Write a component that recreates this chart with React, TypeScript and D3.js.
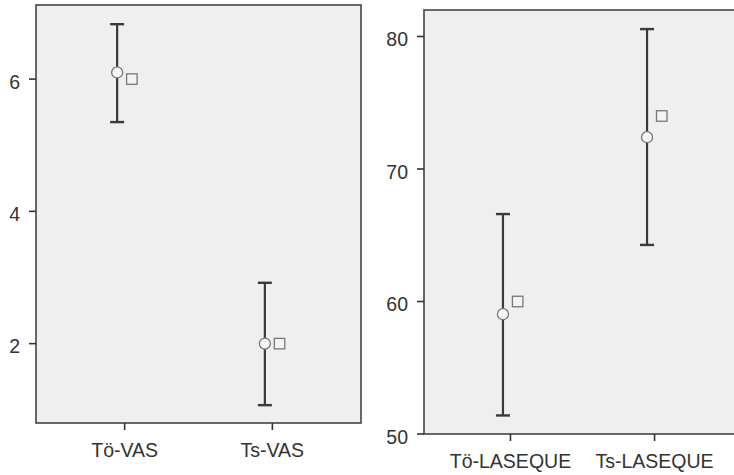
import React from "react";
import * as d3 from "d3";

const vasCategories = ["Tö-VAS", "Ts-VAS"];
const vasMean = [6.1, 2.0];
const vasLower = [5.35, 1.07];
const vasUpper = [6.83, 2.92];
const vasSquare = [6.0, 2.0];
const vasTicks = [2, 4, 6];

const lasCategories = ["Tö-LASEQUE", "Ts-LASEQUE"];
const lasMean = [59.04, 72.4];
const lasLower = [51.4, 64.27];
const lasUpper = [66.6, 80.56];
const lasSquare = [60.0, 74.0];
const lasTicks = [50, 60, 70, 80];

const FONT = "'Liberation Sans', Arial, sans-serif";
const FS = 19.5;

type PanelProps = {
  categories: string[];
  mean: number[];
  lower: number[];
  upper: number[];
  square: number[];
  ticks: number[];
  domain: [number, number];
  x0: number;
  x1: number;
  y0: number;
  y1: number;
};

function Panel(p: PanelProps) {
  const x = d3.scalePoint<string>().domain(p.categories).range([p.x0, p.x1]).padding(0.6);
  const y = d3.scaleLinear().domain(p.domain).range([p.y1, p.y0]);
  const barOff = -7.5;
  const sqOff = 7.2;
  const cap = 7;
  const sq = 10.5;
  return (
    <g>
      <rect x={p.x0} y={p.y0} width={p.x1 - p.x0} height={p.y1 - p.y0} fill="#efefef" stroke="#444" strokeWidth={1.6} />
      {p.ticks.map((t) => (
        <g key={t}>
          <line x1={p.x0 - 7} x2={p.x0} y1={y(t)} y2={y(t)} stroke="#333" strokeWidth={1.6} />
          <text x={p.x0 - 16} y={y(t) + 9.5} textAnchor="end" fontFamily={FONT} fontSize={FS} fill="#333">
            {t}
          </text>
        </g>
      ))}
      {p.categories.map((c) => (
        <g key={c}>
          <line x1={x(c)!} x2={x(c)!} y1={p.y1} y2={p.y1 + 7} stroke="#333" strokeWidth={1.6} />
          <text x={x(c)!} y={p.y1 + 34} textAnchor="middle" fontFamily={FONT} fontSize={FS} fill="#333">
            {c}
          </text>
        </g>
      ))}
      {p.categories.map((c, i) => {
        const cx = x(c)! + barOff;
        const sx = x(c)! + sqOff;
        return (
          <g key={c + "m"}>
            <line x1={cx} x2={cx} y1={y(p.upper[i])} y2={y(p.lower[i])} stroke="#3a3a3a" strokeWidth={2.2} />
            <line x1={cx - cap} x2={cx + cap} y1={y(p.upper[i])} y2={y(p.upper[i])} stroke="#3a3a3a" strokeWidth={2.4} />
            <line x1={cx - cap} x2={cx + cap} y1={y(p.lower[i])} y2={y(p.lower[i])} stroke="#3a3a3a" strokeWidth={2.4} />
            <circle cx={cx} cy={y(p.mean[i])} r={5.5} fill="#f7f7f7" stroke="#777" strokeWidth={1.3} />
            <rect x={sx - sq / 2} y={y(p.square[i]) - sq / 2} width={sq} height={sq} fill="#f3f3f3" stroke="#777" strokeWidth={1.3} />
          </g>
        );
      })}
    </g>
  );
}

export default function App() {
  return (
    <svg width={734} height={475} style={{ position: "absolute", left: 0, top: 0, background: "#fff" }}>
      <Panel
        categories={vasCategories}
        mean={vasMean}
        lower={vasLower}
        upper={vasUpper}
        square={vasSquare}
        ticks={vasTicks}
        domain={[0.8, 7.12]}
        x0={36}
        x1={361}
        y0={5}
        y1={423}
      />
      <Panel
        categories={lasCategories}
        mean={lasMean}
        lower={lasLower}
        upper={lasUpper}
        square={lasSquare}
        ticks={lasTicks}
        domain={[50, 82]}
        x0={424}
        x1={741}
        y0={10}
        y1={434}
      />
    </svg>
  );
}
